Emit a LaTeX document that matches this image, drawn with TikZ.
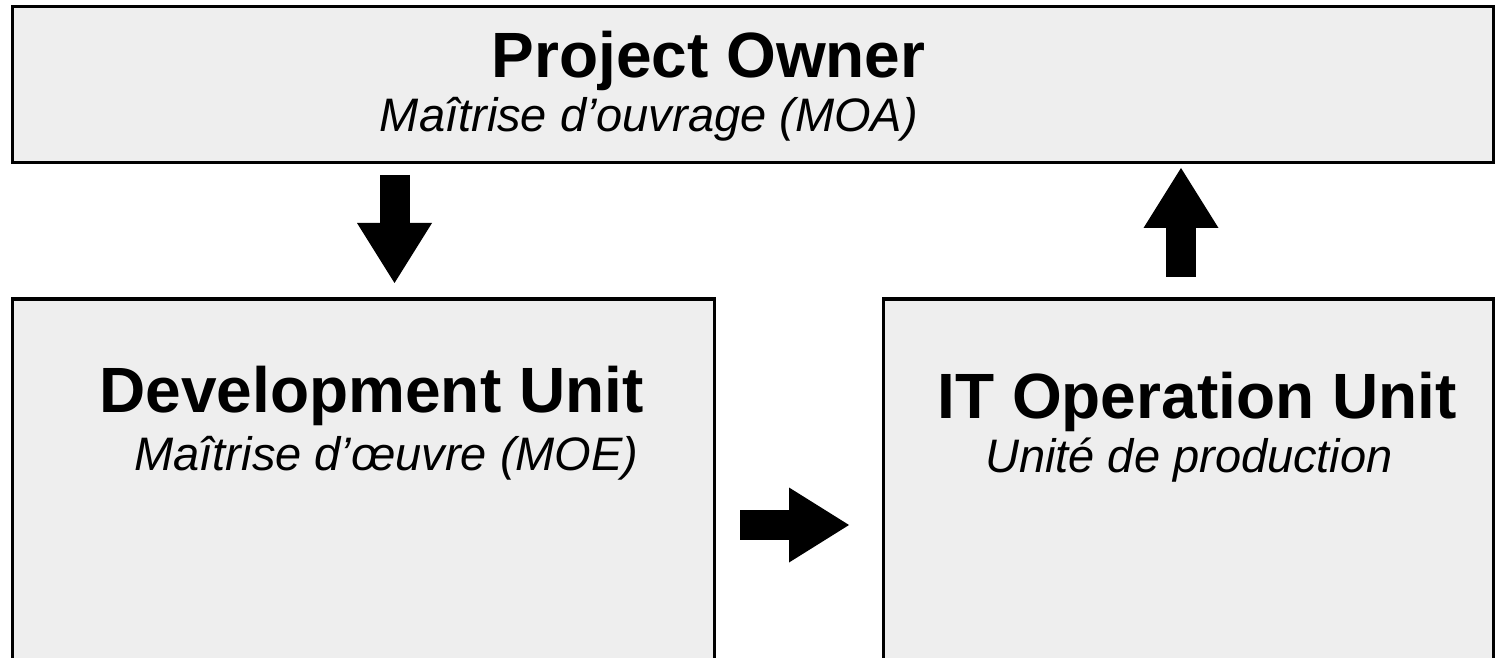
\documentclass[tikz,border=0pt]{standalone}
\usepackage{fontspec}
\setmainfont{Liberation Sans}
\usetikzlibrary{arrows.meta}
\definecolor{boxgray}{HTML}{EEEEEE}
\begin{document}
\begin{tikzpicture}[x=0.5pt,y=-0.5pt,
  box/.style={draw=black, line width=1.5pt, fill=boxgray, inner sep=0pt, outer sep=0pt},
  title/.style={font=\bfseries\fontsize{32}{38}\selectfont, anchor=base, inner sep=0pt},
  sub/.style={font=\itshape\fontsize{23.5}{28}\selectfont, anchor=base, inner sep=0pt},
  blockarrow/.style={line width=15pt, -{Triangle[length=30pt,width=37.5pt,line width=0pt]}}]
\useasboundingbox (0,0) rectangle (1496,658);
\clip (0,0) rectangle (1496,658);
% boxes
\node[box, minimum width=740.5pt, minimum height=78pt] (owner) at (752.5,85) {};
\node[box, minimum width=351pt, minimum height=230.5pt] (dev) at (363,529.5) {};
\node[box, minimum width=305pt, minimum height=230.5pt] (it) at (1188,529.5) {};
% texts
\node[title] (ownert) at (708.5,78) {Project Owner};
\node[sub] (owners) at (649,132) {Maîtrise d’ouvrage (MOA)};
\node[title] (devt) at (371.5,412) {Development Unit};
\node[sub] (devs) at (386.5,470) {Maîtrise d’œuvre (MOE)};
\node[title] (itt) at (1197,418) {IT Operation Unit};
\node[sub] (its) at (1189,472) {Unité de production};
% arrows
\coordinate (dx) at (394.5,0);
\coordinate (ux) at (1181,0);
\coordinate (ry) at (0,525);
\draw[blockarrow, shorten <=6pt, shorten >=8pt] (owner.south -| dx) -- (dev.north -| dx);
\draw[blockarrow, shorten <=11pt, shorten >=2.5pt] (it.north -| ux) -- (owner.south -| ux);
\draw[blockarrow, shorten <=13pt, shorten >=17pt] (dev.east |- ry) -- (it.west |- ry);
\end{tikzpicture}
\end{document}
